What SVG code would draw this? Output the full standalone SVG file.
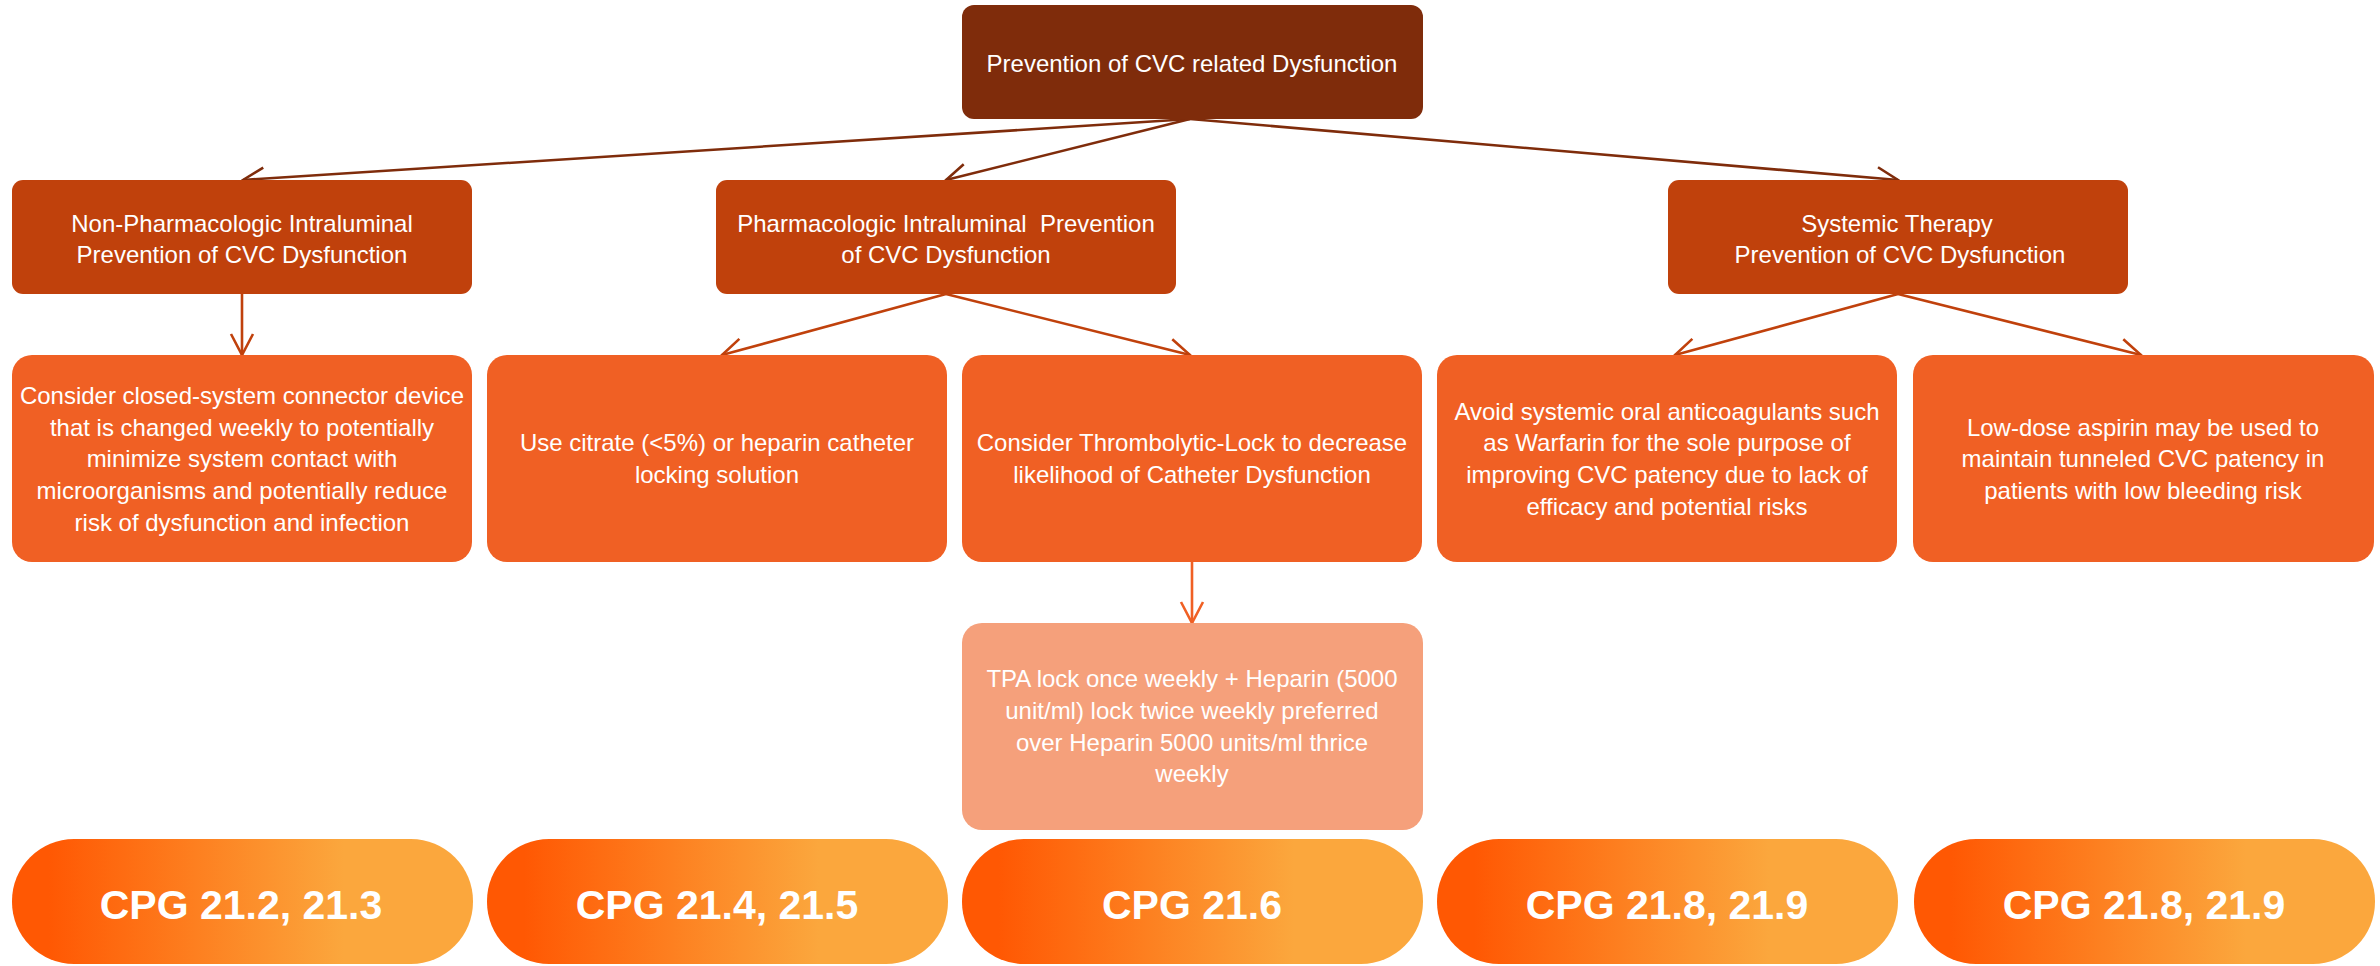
<svg xmlns="http://www.w3.org/2000/svg" width="2380" height="966" viewBox="0 0 2380 966">
<style>
text{font-family:"Liberation Sans",Arial,sans-serif;fill:#fff;text-anchor:middle}
.t{font-size:24px}
.p{font-size:41px;font-weight:bold}
.root{fill:#7F2C0B}
.l2{fill:#C0410C}
.l3{fill:#F06024}
.tpa{fill:#F5A07B}
.pill{fill:url(#g)}
.c1{stroke:#7F2C0B;stroke-width:2.6;fill:none}
.c2{stroke:#C0410C;stroke-width:2.6;fill:none}
.c3{stroke:#F06024;stroke-width:2.6;fill:none}
</style>
<defs>
<linearGradient id="g" x1="0" y1="0" x2="1" y2="0">
<stop offset="0.08" stop-color="#FF5803"/>
<stop offset="0.72" stop-color="#FBA73D"/>
</linearGradient>
<marker id="a1" markerUnits="userSpaceOnUse" markerWidth="26" markerHeight="26" viewBox="0 0 26 26" refX="24" refY="13" orient="auto">
<path d="M3,2 L24,13 L3,24" fill="none" stroke="#7F2C0B" stroke-width="2.6"/>
</marker>
<marker id="a2" markerUnits="userSpaceOnUse" markerWidth="26" markerHeight="26" viewBox="0 0 26 26" refX="24" refY="13" orient="auto">
<path d="M3,2 L24,13 L3,24" fill="none" stroke="#C0410C" stroke-width="2.6"/>
</marker>
<marker id="a3" markerUnits="userSpaceOnUse" markerWidth="26" markerHeight="26" viewBox="0 0 26 26" refX="24" refY="13" orient="auto">
<path d="M3,2 L24,13 L3,24" fill="none" stroke="#F06024" stroke-width="2.6"/>
</marker>
</defs>
<rect width="2380" height="966" fill="#fff"/>
<g id="connectors">
<line class="c1" x1="1190" y1="119" x2="243" y2="180" marker-end="url(#a1)"/>
<line class="c1" x1="1190" y1="119" x2="946" y2="180" marker-end="url(#a1)"/>
<line class="c1" x1="1190" y1="119" x2="1898" y2="180" marker-end="url(#a1)"/>
<line class="c2" x1="242" y1="294" x2="242" y2="355" marker-end="url(#a2)"/>
<line class="c2" x1="946" y1="294" x2="722" y2="355" marker-end="url(#a2)"/>
<line class="c2" x1="946" y1="294" x2="1190" y2="355" marker-end="url(#a2)"/>
<line class="c2" x1="1898" y1="294" x2="1675" y2="355" marker-end="url(#a2)"/>
<line class="c2" x1="1898" y1="294" x2="2141" y2="355" marker-end="url(#a2)"/>
<line class="c3" x1="1192" y1="562" x2="1192" y2="623" marker-end="url(#a3)"/>
</g>
<g id="root">
<rect class="root" x="962" y="5" width="461" height="114" rx="12"/>
<text class="t" x="1192" y="72">Prevention of CVC related Dysfunction</text>
</g>
<g id="nonpharm">
<rect class="l2" x="12" y="180" width="460" height="114" rx="11"/>
<text class="t" x="242" y="232">Non-Pharmacologic Intraluminal</text>
<text class="t" x="242" y="263">Prevention of CVC Dysfunction</text>
</g>
<g id="pharm">
<rect class="l2" x="716" y="180" width="460" height="114" rx="11"/>
<text class="t" x="946" y="232" xml:space="preserve">Pharmacologic Intraluminal  Prevention</text>
<text class="t" x="946" y="263">of CVC Dysfunction</text>
</g>
<g id="systemic">
<rect class="l2" x="1668" y="180" width="460" height="114" rx="11"/>
<text class="t" x="1897" y="232">Systemic Therapy</text>
<text class="t" x="1900" y="263">Prevention of CVC Dysfunction</text>
</g>
<g id="closed">
<rect class="l3" x="12" y="355" width="460" height="207" rx="20"/>
<text class="t" x="242" y="404">Consider closed-system connector device</text>
<text class="t" x="242" y="436">that is changed weekly to potentially</text>
<text class="t" x="242" y="467">minimize system contact with</text>
<text class="t" x="242" y="499">microorganisms and potentially reduce</text>
<text class="t" x="242" y="531">risk of dysfunction and infection</text>
</g>
<g id="citrate">
<rect class="l3" x="487" y="355" width="460" height="207" rx="20"/>
<text class="t" x="717" y="451">Use citrate (&lt;5%) or heparin catheter</text>
<text class="t" x="717" y="483">locking solution</text>
</g>
<g id="thrombolytic">
<rect class="l3" x="962" y="355" width="460" height="207" rx="20"/>
<text class="t" x="1192" y="451">Consider Thrombolytic-Lock to decrease</text>
<text class="t" x="1192" y="483">likelihood of Catheter Dysfunction</text>
</g>
<g id="avoid">
<rect class="l3" x="1437" y="355" width="460" height="207" rx="20"/>
<text class="t" x="1667" y="420">Avoid systemic oral anticoagulants such</text>
<text class="t" x="1667" y="451">as Warfarin for the sole purpose of</text>
<text class="t" x="1667" y="483">improving CVC patency due to lack of</text>
<text class="t" x="1667" y="515">efficacy and potential risks</text>
</g>
<g id="aspirin">
<rect class="l3" x="1913" y="355" width="461" height="207" rx="20"/>
<text class="t" x="2143" y="436">Low-dose aspirin may be used to</text>
<text class="t" x="2143" y="467">maintain tunneled CVC patency in</text>
<text class="t" x="2143" y="499">patients with low bleeding risk</text>
</g>
<g id="tpa">
<rect class="tpa" x="962" y="623" width="461" height="207" rx="20"/>
<text class="t" x="1192" y="687">TPA lock once weekly + Heparin (5000</text>
<text class="t" x="1192" y="719">unit/ml) lock twice weekly preferred</text>
<text class="t" x="1192" y="751">over Heparin 5000 units/ml thrice</text>
<text class="t" x="1192" y="782">weekly</text>
</g>
<g id="cpg1">
<rect class="pill" x="12" y="839" width="461" height="125" rx="62"/>
<text class="p" x="241" y="919">CPG 21.2, 21.3</text>
</g>
<g id="cpg2">
<rect class="pill" x="487" y="839" width="461" height="125" rx="62"/>
<text class="p" x="717" y="919">CPG 21.4, 21.5</text>
</g>
<g id="cpg3">
<rect class="pill" x="962" y="839" width="461" height="125" rx="62"/>
<text class="p" x="1192" y="919">CPG 21.6</text>
</g>
<g id="cpg4">
<rect class="pill" x="1437" y="839" width="461" height="125" rx="62"/>
<text class="p" x="1667" y="919">CPG 21.8, 21.9</text>
</g>
<g id="cpg5">
<rect class="pill" x="1914" y="839" width="461" height="125" rx="62"/>
<text class="p" x="2144" y="919">CPG 21.8, 21.9</text>
</g>
</svg>
